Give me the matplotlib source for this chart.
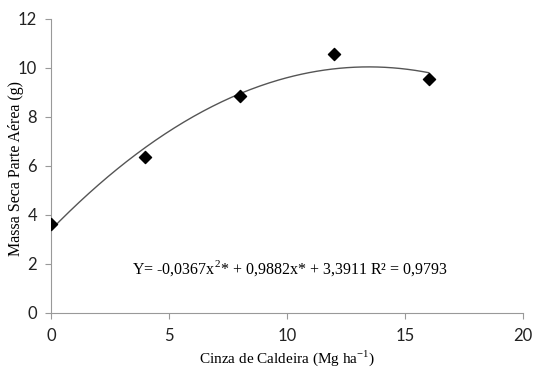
import matplotlib
matplotlib.use("Agg")
import matplotlib.pyplot as plt
import numpy as np

# cinza de caldeira doses and shoot dry mass
dose = [0, 4, 8, 12, 16]
massa = [3.65, 6.35, 8.85, 10.55, 9.55]

# fitted quadratic coefficients
a, b, c = -0.0367, 0.9882, 3.3911

fig = plt.figure(figsize=(5.34, 3.68), dpi=100)
ax = fig.add_axes([0.0955, 0.1495, 0.884, 0.799])

xs = np.linspace(0, 16, 200)
ax.plot(xs, a * xs**2 + b * xs + c, color="#555555", lw=1.0)
ax.scatter(dose, massa, marker="D", s=38, color="black", zorder=3)

ax.set_xlim(0, 20)
ax.set_ylim(0, 12)
ax.set_xticks([0, 5, 10, 15, 20])
ax.set_yticks([0, 2, 4, 6, 8, 10, 12])

for s in ["top", "right"]:
    ax.spines[s].set_visible(False)
for s in ["left", "bottom"]:
    ax.spines[s].set_color("#999999")
    ax.spines[s].set_linewidth(0.8)
ax.tick_params(direction="out", length=4, color="#999999", width=0.8,
               labelsize=12, labelcolor="#222222")
ax.tick_params(axis="x", pad=7)
ax.tick_params(axis="y", pad=6)
for lab in ax.get_xticklabels() + ax.get_yticklabels():
    lab.set_family("Lato")

serif = "Liberation Serif"
ax.set_xlabel("Cinza de Caldeira (Mg ha$^{\\mathregular{-1}}$)", family=serif, fontsize=11, labelpad=3)
ax.set_ylabel("Massa Seca Parte Aérea (g)", family=serif, fontsize=11.5)
ax.yaxis.set_label_coords(-0.058, 0.49)
ax.text(3.45, 1.85, "Y= -0,0367x$^{\\mathregular{2}}$* + 0,9882x* + 3,3911 R² = 0,9793",
        family=serif, fontsize=11.5, va="center")

fig.savefig("out.png", dpi=100)
